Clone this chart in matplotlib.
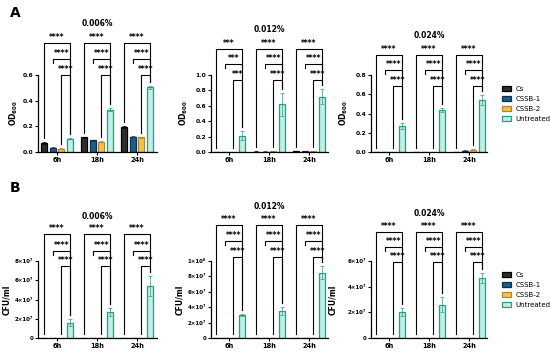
import matplotlib
matplotlib.use("Agg")
import matplotlib.pyplot as plt
from matplotlib.patches import Patch

plt.rcParams['font.family'] = ['DejaVu Sans']

groups = ['Cs', 'CSSB-1', 'CSSB-2', 'Untreated']
times = ['6h', '18h', '24h']
face = ['#2e2e2e', '#1e5d88', '#f2c24f', '#c6ede3']
edge = ['#000000', '#0c3250', '#b5852a', '#2a9b84']

# panel A: OD600
a1_vals = [[0.070, 0.115, 0.195], [0.033, 0.090, 0.120], [0.025, 0.080, 0.115], [0.105, 0.330, 0.505]]
a1_err = [[0.005, 0.005, 0.006], [0.003, 0.005, 0.005], [0.003, 0.005, 0.005], [0.006, 0.012, 0.012]]
a2_vals = [[0.004, 0.006, 0.010], [0.002, 0.006, 0.015], [0.002, 0.010, 0.015], [0.210, 0.620, 0.720]]
a2_err = [[0.002, 0.002, 0.003], [0.001, 0.002, 0.003], [0.001, 0.003, 0.003], [0.060, 0.150, 0.100]]
a3_vals = [[0.001, 0.003, 0.003], [0.001, 0.002, 0.015], [0.001, 0.004, 0.025], [0.270, 0.440, 0.540]]
a3_err = [[0.001, 0.001, 0.001], [0.001, 0.001, 0.004], [0.001, 0.001, 0.006], [0.030, 0.020, 0.050]]
# panel B: CFU/ml
b1_vals = [[0, 0, 0], [0, 0, 0], [0, 0, 0], [1.6e7, 2.7e7, 5.4e7]]
b1_err = [[0, 0, 0], [0, 0, 0], [0, 0, 0], [0.4e7, 0.4e7, 1.0e7]]
b2_vals = [[0, 0, 0], [0, 0, 0], [0, 0, 0], [3.0e7, 3.5e7, 8.5e7]]
b2_err = [[0, 0, 0], [0, 0, 0], [0, 0, 0], [0.15e7, 0.5e7, 0.8e7]]
b3_vals = [[0, 0, 0], [0, 0, 0], [0, 0, 0], [2.0e7, 2.6e7, 4.7e7]]
b3_err = [[0, 0, 0], [0, 0, 0], [0, 0, 0], [0.3e7, 0.6e7, 0.4e7]]

a2_stars = ['***', '****', '****']
all_stars = ['****', '****', '****']

W, H = 550, 355
fig = plt.figure(figsize=(5.5, 3.55), dpi=100)
offs = [-0.32, -0.107, 0.107, 0.32]
bw = 0.15


def panel(yaxis_px, g0_px, end_px, base_px, top_px, tick_px, ticks, ticklabels,
          vals, errs, stars, title, title_px, line_px, ylabel, ylab_px, tfs=4.3):
    scale = ticks[-1] / (base_px - tick_px)  # data per pixel
    ax = fig.add_axes([yaxis_px / W, 1 - base_px / H, (end_px - yaxis_px) / W, (base_px - top_px) / H])
    ax.set_xlim((yaxis_px - g0_px) / 40, (end_px - g0_px) / 40)
    ax.set_ylim(0, (base_px - top_px) * scale)
    for s in ['top', 'right']:
        ax.spines[s].set_visible(False)
    ax.spines['left'].set_bounds(0, ticks[-1])
    for s in ['left', 'bottom']:
        ax.spines[s].set_linewidth(0.9)
    ax.set_yticks(ticks)
    ax.set_yticklabels(ticklabels, fontsize=tfs, fontweight='bold')
    ax.set_xticks(range(3))
    ax.set_xticklabels(times, fontsize=4.8, fontweight='bold')
    ax.tick_params(length=2, width=0.8, pad=1.5)
    for i in range(4):
        xs = [t + offs[i] for t in range(3)]
        ax.bar(xs, vals[i], bw, color=face[i], edgecolor=edge[i], linewidth=0.9)
        ax.errorbar(xs, vals[i], yerr=errs[i], fmt='none', ecolor=edge[i], elinewidth=0.5, capsize=1.2, capthick=0.5)
    gap = 4 * scale
    for t in range(3):
        top_u = vals[3][t] + errs[3][t] + gap
        ys = [(base_px - p) * scale for p in line_px]
        xr = t + offs[3]
        # top bracket: Cs vs Untreated
        xl = t + offs[0]
        ax.plot([xl, xl, xr, xr], [vals[0][t] + errs[0][t] + gap, ys[0], ys[0], top_u], color='black', lw=0.8)
        # middle bracket: CSSB-1 vs Untreated (short legs)
        xl = t + offs[1]
        ax.plot([xl, xl, xr, xr], [ys[1] - 4 * scale, ys[1], ys[1], ys[1] - 4 * scale], color='black', lw=0.8)
        # bottom bracket: CSSB-2 vs Untreated
        xl = t + offs[2]
        ax.plot([xl, xl, xr, xr], [vals[2][t] + errs[2][t] + gap, ys[2], ys[2], top_u], color='black', lw=0.8)
        for k in range(3):
            xm = (t + offs[k] + xr) / 2
            ax.text(xm, ys[k] + 1.2 * scale, stars[t], ha='center', va='bottom', fontsize=5.5, fontweight='bold')
    ax.text(1, (base_px - title_px) * scale, title, ha='center', va='center', fontsize=5.5, fontweight='bold')
    ax.set_ylabel(ylabel, fontsize=5.5, fontweight='bold')
    ax.yaxis.set_label_coords((ylab_px - yaxis_px) / (end_px - yaxis_px), (base_px - (base_px + tick_px) / 2) / (base_px - top_px))
    return ax


od = r'OD$_{\mathbf{600}}$'
panel(38, 57, 157, 152, 12, 75, [0, 0.2, 0.4, 0.6], ['0.0', '0.2', '0.4', '0.6'],
      a1_vals, a1_err, all_stars, '0.006%', 24, [43, 59, 75], od, 20)
panel(211, 229, 328, 152, 12, 75, [0, 0.2, 0.4, 0.6, 0.8, 1.0], ['0.0', '0.2', '0.4', '0.6', '0.8', '1.0'],
      a2_vals, a2_err, a2_stars, '0.012%', 30, [49, 64, 80], od, 190)
panel(371, 389, 487, 152, 12, 75, [0, 0.2, 0.4, 0.6, 0.8], ['0.0', '0.2', '0.4', '0.6', '0.8'],
      a3_vals, a3_err, all_stars, '0.024%', 36, [55, 70, 86], od, 350)

cfu1 = ['0', '2×10⁷', '4×10⁷', '6×10⁷', '8×10⁷']
cfu2 = ['0', '2×10⁷', '4×10⁷', '6×10⁷', '8×10⁷', '1×10⁸']
cfu3 = ['0', '2×10⁷', '4×10⁷', '6×10⁷']
panel(38, 57, 157, 338, 195, 261, [0, 2e7, 4e7, 6e7, 8e7], cfu1,
      b1_vals, b1_err, all_stars, '0.006%', 217, [234, 251, 266], 'CFU/ml', 11, tfs=4)
panel(211, 229, 328, 338, 195, 261, [0, 2e7, 4e7, 6e7, 8e7, 1e8], cfu2,
      b2_vals, b2_err, all_stars, '0.012%', 207, [225, 241, 257], 'CFU/ml', 184, tfs=4)
panel(371, 389, 487, 338, 195, 261, [0, 2e7, 4e7, 6e7], cfu3,
      b3_vals, b3_err, all_stars, '0.024%', 213, [232, 247, 262], 'CFU/ml', 337, tfs=4)

handles = [Patch(facecolor=face[i], edgecolor=edge[i], linewidth=0.9, label=groups[i]) for i in range(4)]
for ytop in [86, 272]:
    fig.legend(handles=handles, loc='upper left', bbox_to_anchor=(502 / W, 1 - ytop / H), frameon=False,
               fontsize=5, handlelength=1.3, handleheight=0.8, labelspacing=0.55, handletextpad=0.6,
               borderaxespad=0, borderpad=0)

fig.text(10 / W, 1 - 13 / H, 'A', fontsize=10, fontweight='bold', va='center')
fig.text(10 / W, 1 - 188 / H, 'B', fontsize=10, fontweight='bold', va='center')

fig.savefig('out.png', dpi=100)
